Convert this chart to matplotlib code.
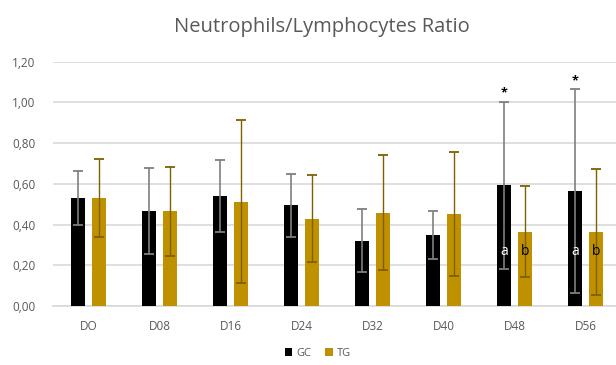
import numpy as np
import matplotlib.pyplot as plt

plt.rcParams['font.family'] = ['Open Sans', 'DejaVu Sans']

# data
days = ['DO', 'D08', 'D16', 'D24', 'D32', 'D40', 'D48', 'D56']
gc_mean = [0.53, 0.466, 0.54, 0.494, 0.32, 0.349, 0.594, 0.566]
gc_sd = [0.132, 0.213, 0.175, 0.156, 0.155, 0.116, 0.41, 0.50]
tg_mean = [0.53, 0.466, 0.512, 0.429, 0.458, 0.45, 0.365, 0.365]
tg_sd = [0.19, 0.218, 0.40, 0.215, 0.282, 0.305, 0.222, 0.31]
yticks = [0, 0.2, 0.4, 0.6, 0.8, 1.0, 1.2]

# significance marks: (day index, text)
star_days = [6, 7]

grey = '#595959'
gold = '#BF9000'

fig = plt.figure(figsize=(6.16, 3.65), dpi=100)
ax = fig.add_axes([53 / 616, 1 - 306 / 365, 568 / 616, (306 - 61.7) / 365])

x = np.arange(len(days))
w = 0.2
ax.bar(x - 0.15, gc_mean, w, color='black', yerr=gc_sd,
       error_kw=dict(ecolor='#7f7f7f', elinewidth=1.2, capsize=3.5, capthick=1.3),
       label='GC', zorder=3)
ax.bar(x + 0.15, tg_mean, w, color=gold, yerr=tg_sd,
       error_kw=dict(ecolor='#7f6000', elinewidth=1.0, capsize=3.5, capthick=1.3),
       label='TG', zorder=3)

# letters and asterisks
for i in star_days:
    ax.text(x[i] - 0.15, gc_mean[i] + gc_sd[i] + 0.01, '*', ha='center',
            va='bottom', fontsize=9, fontweight='bold', color='black', zorder=5)
    ax.text(x[i] - 0.15, 0.27, 'a', ha='center', va='center', fontsize=10,
            color='white', zorder=5)
    ax.text(x[i] + 0.15, 0.27, 'b', ha='center', va='center', fontsize=10,
            color='black', zorder=5)

ax.set_xlim(-0.5, len(days) - 0.5)
ax.set_ylim(0, 1.2)
ax.set_yticks(yticks)
ax.set_yticklabels([f'{v:.2f}'.replace('.', ',') for v in yticks])
ax.set_xticks(x)
ax.set_xticklabels(days)
ax.tick_params(axis='both', length=0, labelsize=8.5, labelcolor=grey)
ax.tick_params(axis='y', pad=29.5)
ax.tick_params(axis='x', pad=10)
for lbl in ax.get_yticklabels():
    lbl.set_horizontalalignment('left')

ax.grid(axis='y', color='#d9d9d9', linewidth=1.2, zorder=0)
for s in ['top', 'right', 'left']:
    ax.spines[s].set_visible(False)
ax.spines['bottom'].set_color('#d9d9d9')
ax.spines['bottom'].set_linewidth(1.2)

fig.text(322 / 616, 1 - 27 / 365, 'Neutrophils/Lymphocytes Ratio', ha='center',
         va='center', fontsize=14.5, color=grey)

fig.legend(loc='center', bbox_to_anchor=(318 / 616, 1 - 353 / 365), ncol=2,
           frameon=False, fontsize=8, handlelength=0.7, handleheight=0.7,
           columnspacing=1.2, handletextpad=0.4, labelcolor=grey)

fig.savefig('out.png', dpi=100)
